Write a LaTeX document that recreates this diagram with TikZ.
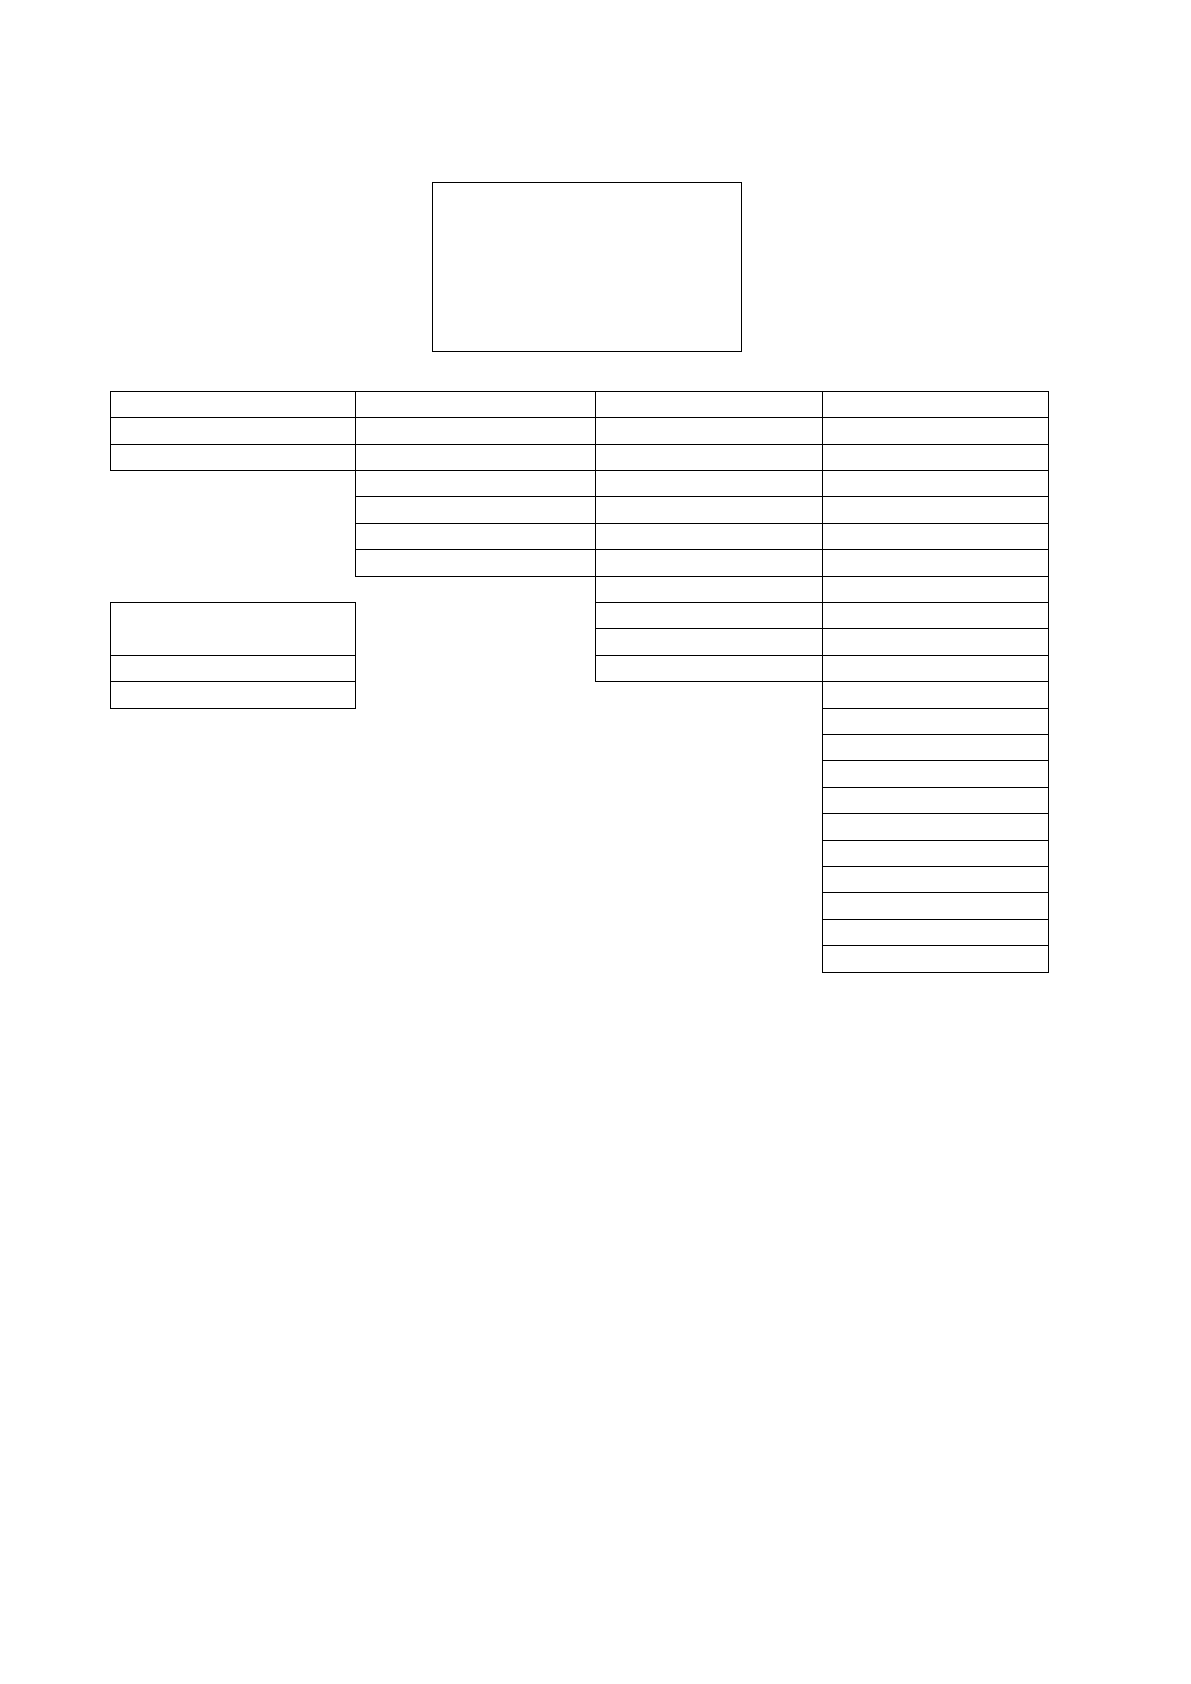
\documentclass[tikz,border=0pt]{standalone}
\usepackage{tikz}
\usetikzlibrary{positioning}

\begin{document}
\begin{tikzpicture}[x=0.5pt,y=0.5pt,node distance=0pt,
    cell/.style={draw,rectangle,inner sep=0pt,outer sep=0pt,line width=0.5pt,minimum height=13.2pt},
    colA/.style={cell,minimum width=122.5pt},
    colB/.style={cell,minimum width=119.8pt},
    colC/.style={cell,minimum width=113.5pt},
    colD/.style={cell,minimum width=113.1pt}]
            \useasboundingbox (0,0) rectangle (1190,-1684);
            \node[cell, minimum width=154.7pt, minimum height=84.3pt] (top) at (587,-267) {};

            % first block
            \node[colA, anchor=north west] (A1) at (110.7,-391.3) {};
            \node[colA] (A2) [below=of A1] {};
            \node[colA] (A3) [below=of A2] {};
            \node[colA, minimum height=26.4pt] (A4) [below=66pt of A3] {};
            \node[colA] (A5) [below=of A4] {};
            \node[colA] (A6) [below=of A5] {};

            \node[colB] (B1) [right=of A1] {};
            \node[colB] (B2) [below=of B1] {};
            \node[colB] (B3) [below=of B2] {};
            \node[colB] (B4) [below=of B3] {};
            \node[colB] (B5) [below=of B4] {};
            \node[colB] (B6) [below=of B5] {};
            \node[colB] (B7) [below=of B6] {};

            \node[colC] (C1) [right=of B1] {};
            \node[colC] (C2) [below=of C1] {};
            \node[colC] (C3) [below=of C2] {};
            \node[colC] (C4) [below=of C3] {};
            \node[colC] (C5) [below=of C4] {};
            \node[colC] (C6) [below=of C5] {};
            \node[colC] (C7) [below=of C6] {};
            \node[colC] (C8) [below=of C7] {};
            \node[colC] (C9) [below=of C8] {};
            \node[colC] (C10) [below=of C9] {};
            \node[colC] (C11) [below=of C10] {};

            \node[colD] (D1) [right=of C1] {};
            \node[colD] (D2) [below=of D1] {};
            \node[colD] (D3) [below=of D2] {};
            \node[colD] (D4) [below=of D3] {};
            \node[colD] (D5) [below=of D4] {};
            \node[colD] (D6) [below=of D5] {};
            \node[colD] (D7) [below=of D6] {};
            \node[colD] (D8) [below=of D7] {};
            \node[colD] (D9) [below=of D8] {};
            \node[colD] (D10) [below=of D9] {};
            \node[colD] (D11) [below=of D10] {};
            \node[colD] (D12) [below=of D11] {};
            \node[colD] (D13) [below=of D12] {};
            \node[colD] (D14) [below=of D13] {};
            \node[colD] (D15) [below=of D14] {};
            \node[colD] (D16) [below=of D15] {};
            \node[colD] (D17) [below=of D16] {};
            \node[colD] (D18) [below=of D17] {};
            \node[colD] (D19) [below=of D18] {};
            \node[colD] (D20) [below=of D19] {};
            \node[colD] (D21) [below=of D20] {};
            \node[colD] (D22) [below=of D21] {};
        \end{tikzpicture}
\end{document}
